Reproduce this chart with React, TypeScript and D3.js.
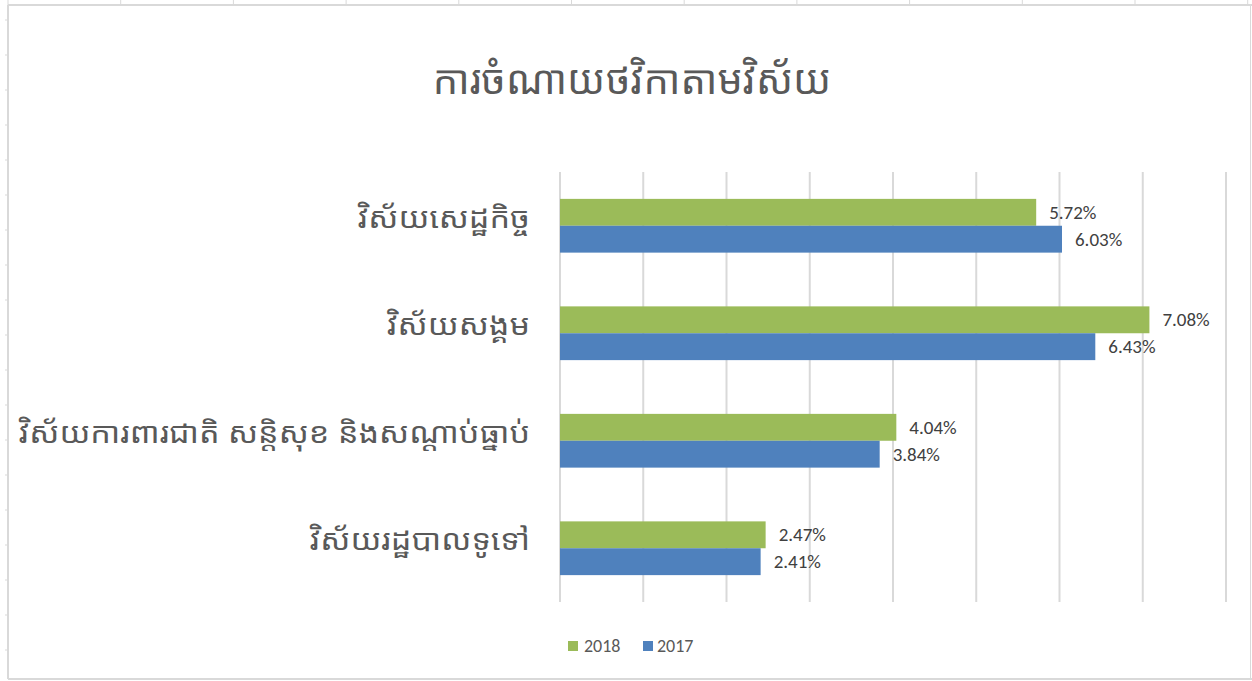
import React from "react";
import * as d3 from "d3";

const title = "ការចំណាយថវិកាតាមវិស័យ";
const categories = [
  "វិស័យសេដ្ឋកិច្ច",
  "វិស័យសង្គម",
  "វិស័យការពារជាតិ  សន្តិសុខ  និងសណ្តាប់ធ្នាប់",
  "វិស័យរដ្ឋបាលទូទៅ",
];
const seriesNames = ["2018", "2017"];
const values2018 = [5.72, 7.08, 4.04, 2.47];
const values2017 = [6.03, 6.43, 3.84, 2.41];
const xTicks = [0, 1, 2, 3, 4, 5, 6, 7, 8];

const W = 1252;
const H = 681;
const colors: Record<string, string> = { "2018": "#9BBB59", "2017": "#4F81BD" };
const khmerFont = "'Noto Sans Khmer', 'Khmer OS', 'Khmer OS System', 'DejaVu Sans', sans-serif";
const latinFont = "Carlito, Lato, 'Open Sans', sans-serif";

export default function App() {
  const x = d3.scaleLinear().domain([0, 8]).range([560, 1226]);
  const y = d3.scaleBand<string>().domain(categories).range([172, 602]).padding(0);
  const bw = y.bandwidth();
  const inner = d3
    .scaleBand<string>()
    .domain(seriesNames)
    .range([bw / 4, (bw * 3) / 4])
    .padding(0);
  const seriesValues: Record<string, number[]> = { "2018": values2018, "2017": values2017 };

  const topTicks = d3.range(8, W, 112.7);
  const leftTicks = d3.range(650, 0, -35);
  const labelScaleX = 1.12;

  return (
    <svg
      width={W}
      height={H}
      style={{ position: "absolute", left: 0, top: 0, background: "#fff" }}
    >
      {/* frame */}
      <g stroke="#D9D9D9" fill="none">
        <line x1={8} x2={W} y1={5} y2={5} strokeWidth={2} />
        <line x1={8} x2={8} y1={5} y2={679} strokeWidth={2} />
        <line x1={8} x2={W} y1={679} y2={679} strokeWidth={2} />
        <line x1={1250.5} x2={1250.5} y1={5} y2={679} strokeWidth={1} />
        {topTicks.map((t, i) => (
          <line key={"tt" + i} x1={t} x2={t} y1={0} y2={5} strokeWidth={1} />
        ))}
        {leftTicks.map((t, i) => (
          <line key={"lt" + i} x1={5} x2={8} y1={t} y2={t} strokeWidth={1} />
        ))}
      </g>

      {/* title */}
      <text
        x={632}
        y={94}
        textAnchor="middle"
        fontFamily={khmerFont}
        fontSize={40}
        fill="#595959"
      >
        {title}
      </text>

      {/* gridlines */}
      <g stroke="#D9D9D9" strokeWidth={2}>
        {xTicks.map((t) => (
          <line key={t} x1={x(t)} x2={x(t)} y1={172} y2={602} />
        ))}
      </g>

      {/* bars */}
      {categories.map((c, ci) => (
        <g key={c} transform={`translate(0,${y(c)})`}>
          {seriesNames.map((s) => {
            const v = seriesValues[s][ci];
            const by = inner(s)!;
            const bh = inner.bandwidth();
            return (
              <g key={s}>
                <rect
                  x={x(0)}
                  y={by}
                  width={x(v) - x(0)}
                  height={bh}
                  fill={colors[s]}
                />
                <text
                  x={x(v) + 13}
                  y={by + bh / 2}
                  dominantBaseline="central"
                  fontFamily={latinFont}
                  fontSize={19}
                  fill="#404040"
                >
                  {v.toFixed(2) + "%"}
                </text>
              </g>
            );
          })}
          <g transform={`translate(530,${bw / 2 + 2}) scale(${labelScaleX},1)`}>
            <text
              x={0}
              y={0}
              textAnchor="end"
              fontFamily={khmerFont}
              fontSize={29}
              fill="#595959"
            >
              {c}
            </text>
          </g>
        </g>
      ))}

      {/* legend */}
      <g fontFamily={latinFont} fontSize={18} fill="#595959">
        <rect x={568} y={641} width={10} height={10} fill={colors["2018"]} />
        <text x={584} y={652}>2018</text>
        <rect x={643} y={641} width={10} height={10} fill={colors["2017"]} />
        <text x={657} y={652}>2017</text>
      </g>
    </svg>
  );
}
